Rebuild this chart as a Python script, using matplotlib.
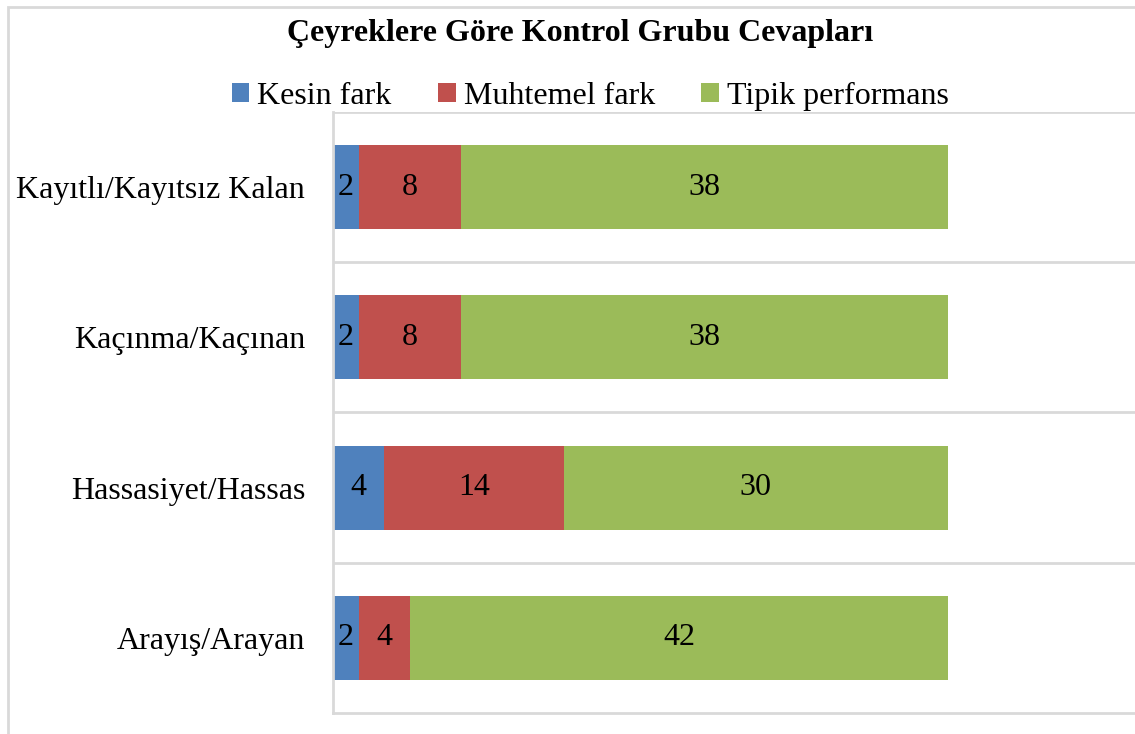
import matplotlib.pyplot as plt
from matplotlib.patches import Rectangle

plt.rcParams["font.family"] = ["Liberation Serif", "DejaVu Serif"]

categories = ["Kayıtlı/Kayıtsız Kalan", "Kaçınma/Kaçınan", "Hassasiyet/Hassas", "Arayış/Arayan"]
kesin = [2, 2, 4, 2]
muhtemel = [8, 8, 14, 4]
tipik = [38, 38, 30, 42]
series = ["Kesin fark", "Muhtemel fark", "Tipik performans"]
colors = ["#4F81BD", "#C0504D", "#9BBB59"]

fig = plt.figure(figsize=(11.35, 7.34), dpi=100)
ax = fig.add_axes([333 / 1135, 21 / 734, 1 - 333 / 1135, 601 / 734])

y = list(range(len(categories)))
left = [0] * len(categories)
for name, vals, c in zip(series, [kesin, muhtemel, tipik], colors):
    bars = ax.barh(y, vals, left=left, height=0.56, color=c, label=name)
    ax.bar_label(bars, labels=[str(v) for v in vals], label_type="center",
                 fontsize=23, color="black")
    left = [a + b for a, b in zip(left, vals)]

ax.set_ylim(len(categories) - 0.5, -0.5)
ax.set_xlim(0, 48 * (1135 - 333) / 615)
ax.set_yticks(y)
ax.set_yticklabels(categories, fontsize=23)
ax.tick_params(axis="y", length=0, pad=20)
ax.set_xticks([])
for yy in [-0.5 + i for i in range(len(categories))]:
    ax.axhline(yy, color="#d9d9d9", lw=2, zorder=0)
for s in ["top", "right"]:
    ax.spines[s].set_visible(False)
ax.spines["left"].set_color("#d9d9d9")
ax.spines["left"].set_linewidth(2)
ax.spines["bottom"].set_color("#d9d9d9")
ax.spines["bottom"].set_linewidth(2)

# chart frame
fig.patches.append(Rectangle((8 / 1135, -0.1), 1.2, 1 - 7 / 734 + 0.1,
                             transform=fig.transFigure, fill=False,
                             edgecolor="#d9d9d9", lw=2))

fig.text(0.511, 1 - 33 / 734, "Çeyreklere Göre Kontrol Grubu Cevapları",
         ha="center", va="center", fontsize=23, fontweight="bold")
fig.legend(loc="center", bbox_to_anchor=(0.52, 1 - 96 / 734), ncol=3,
           frameon=False, fontsize=23, handlelength=0.55, handleheight=0.55,
           handletextpad=0.25, columnspacing=1.45)

fig.savefig("out.png", dpi=100)
